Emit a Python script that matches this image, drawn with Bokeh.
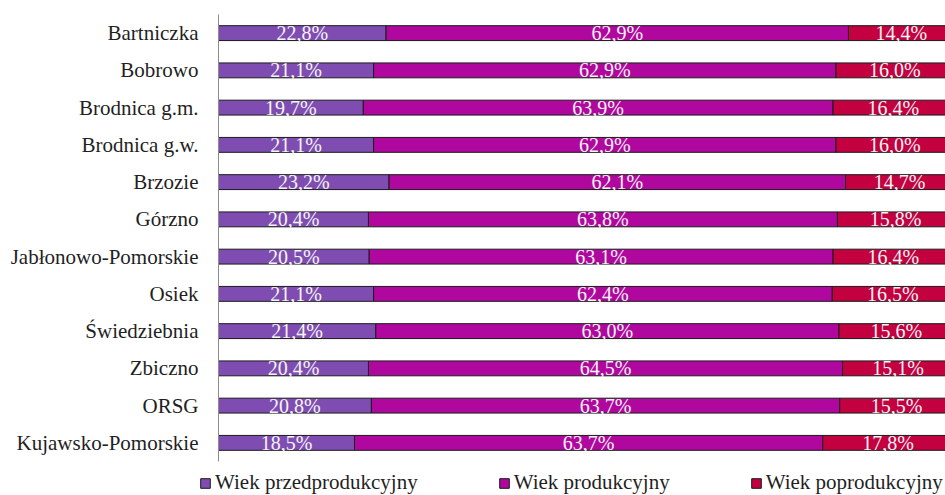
from bokeh.plotting import figure
from bokeh.models import ColumnDataSource, FactorRange, Range1d, Legend, LegendItem
from bokeh.layouts import column
from bokeh.core.properties import value
from bokeh.embed import file_html
from bokeh.resources import INLINE

categories = ["Bartniczka", "Bobrowo", "Brodnica g.m.", "Brodnica g.w.", "Brzozie", "Górzno",
              "Jabłonowo-Pomorskie", "Osiek", "Świedziebnia", "Zbiczno", "ORSG", "Kujawsko-Pomorskie"]
przed = [22.8, 21.1, 19.7, 21.1, 23.2, 20.4, 20.5, 21.1, 21.4, 20.4, 20.8, 18.5]
prod = [62.9, 62.9, 63.9, 62.9, 62.1, 63.8, 63.1, 62.4, 63.0, 64.5, 63.7, 63.7]
poprod = [14.4, 16.0, 16.4, 16.0, 14.7, 15.8, 16.4, 16.5, 15.6, 15.1, 15.5, 17.8]
series_names = ["Wiek przedprodukcyjny", "Wiek produkcyjny", "Wiek poprodukcyjny"]
colors = ["#7F4DB2", "#B0089F", "#C30040"]

FONT = "Liberation Serif"
LINE = "#1a1a1a"

p = figure(width=945, height=470, output_backend="svg", toolbar_location=None,
           y_range=FactorRange(*reversed(categories)), x_range=Range1d(0, 98.9),
           min_border_left=218, min_border_right=0, min_border_top=14, min_border_bottom=9)
p.frame_align = False
p.outline_line_color = None
p.xgrid.visible = False
p.ygrid.visible = False
p.xaxis.visible = False

yax = p.yaxis[0]
yax.axis_line_color = "#8C8C8C"
yax.axis_line_width = 1
yax.major_tick_line_color = None
yax.minor_tick_line_color = None
yax.major_label_standoff = 14
yax.major_label_text_font = FONT
yax.major_label_text_font_size = "21px"
yax.major_label_text_color = "#1F1F1F"

series = [przed, prod, poprod]
sources = []
left = [0.0] * len(categories)
for name, vals, col in zip(series_names, series, colors):
    right = [l + v for l, v in zip(left, vals)]
    src = ColumnDataSource(dict(
        y=categories, left=left, right=right,
        mid=[(l + r) / 2 for l, r in zip(left, right)],
        lab=[f"{v:.1f}%".replace(".", ",") for v in vals]))
    sources.append(src)
    p.hbar(y="y", left="left", right="right", height=0.4, source=src,
           fill_color=col, line_color=LINE, line_width=1)
    p.text(x="mid", y="y", text="lab", source=src, text_align="center",
           text_baseline="middle", text_color="#F4F4F4",
           text_font=value(FONT), text_font_size="20px")
    left = right

# legend strip (its bars lie outside its visible range; only the legend shows)
lg = figure(width=945, height=25, output_backend="svg", toolbar_location=None,
            x_range=Range1d(-2, -1), y_range=FactorRange(*reversed(categories)),
            min_border_left=0, min_border_right=0, min_border_top=0, min_border_bottom=0)
lg.frame_align = False
lg.outline_line_color = None
lg.xaxis.visible = False
lg.yaxis.visible = False
lg.xgrid.visible = False
lg.ygrid.visible = False
items = []
for name, col, src in zip(series_names, colors, sources):
    r = lg.hbar(y="y", left="left", right="right", height=0.4, source=src,
                fill_color=col, line_color=LINE, line_width=1)
    items.append(LegendItem(label=name, renderers=[r]))
legend = Legend(items=items, orientation="horizontal", location=(199, 0),
                spacing=80, padding=0, margin=0, glyph_width=12, glyph_height=12,
                label_standoff=4, label_height=20, label_text_font=FONT,
                label_text_font_size="21px", label_text_color="#1F1F1F",
                background_fill_alpha=0, border_line_color=None)
lg.add_layout(legend, "center")

layout = column(p, lg, spacing=0)
open("out.html", "w").write(file_html(layout, INLINE))
